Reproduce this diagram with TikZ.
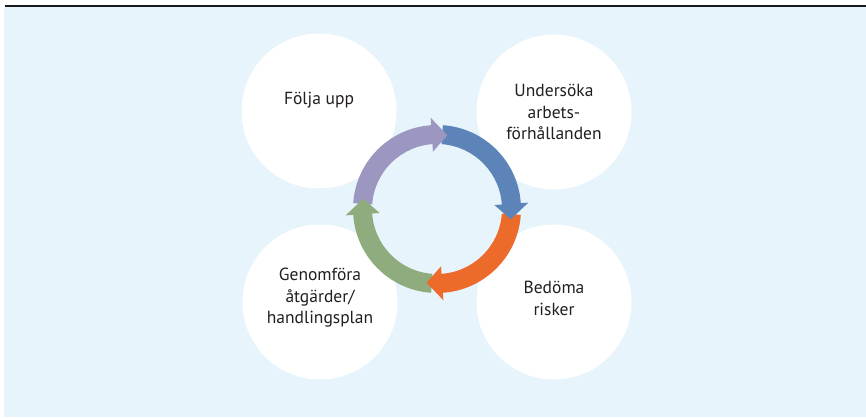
\documentclass[tikz,border=0pt]{standalone}
\usepackage{fontspec}
\setmainfont{PT Sans}
\usetikzlibrary{positioning}

\definecolor{bgblue}{RGB}{232,244,251}
\definecolor{textdark}{RGB}{35,31,32}
\definecolor{purp}{RGB}{155,151,192}
\definecolor{blu}{RGB}{92,132,184}
\definecolor{ora}{RGB}{236,106,42}
\definecolor{gre}{RGB}{143,172,126}

\tikzset{
	bub/.style={circle,fill=white,minimum size=155pt,inner sep=0pt},
	lbl/.style={align=center,text=textdark,font=\fontsize{17.5}{21.5}\selectfont}
}

\begin{document}
\begin{tikzpicture}[x=1pt,y=1pt]
		\useasboundingbox (0,0) rectangle (866,417);
		\fill[bgblue] (4,0) rectangle (866,409.5);
		\draw[line width=2.5pt,black!90] (5,410.8) -- (866,410.8);
	
		\node[bub] (folja) at (319,306) {};
		\node[bub] (undersoka) at (554,305) {};
		\node[bub] (genomfora) at (320,115) {};
		\node[bub] (bedoma) at (554,115) {};
	
		\node[lbl] (foljatxt) at ([yshift=11pt]folja.center) {Följa upp};
		\node[lbl] (undersokatxt) at (undersoka.center) {Undersöka\\arbets-\\förhållanden};
		\node[lbl] (genomforatxt) at ([yshift=4pt]genomfora.center) {Genomföra\\åtgärder/\\handlingsplan};
		\node[lbl] (bedomatxt) at ([yshift=3.5pt]bedoma.center) {Bedöma\\risker};
	
		\coordinate (ring) at (437,208);
		\def\ri{65}
		\def\ro{84}
		\def\rm{74.5}
		\foreach \col/\a [evaluate=\a as \b using \a-84] in {purp/176,blu/86,ora/-4,gre/-94}
			\fill[\col] ([shift={(ring)}]\a:\ri) arc[start angle=\a,end angle=\b,radius=\ri]
				-- ([shift={(ring)}]\b:\ro) arc[start angle=\b,end angle=\a,radius=\ro] -- cycle;
		\foreach \col/\a [evaluate=\a as \b using \a-82, evaluate=\a as \t using \a-94] in {purp/176,blu/86,ora/-4,gre/-94}
			\fill[\col] ([shift={(ring)}]\b:\rm-17) -- ([shift={(ring)}]\b:\rm+17)
				-- ([shift={(ring)}]\t:\rm) -- cycle;
	\end{tikzpicture}
\end{document}
